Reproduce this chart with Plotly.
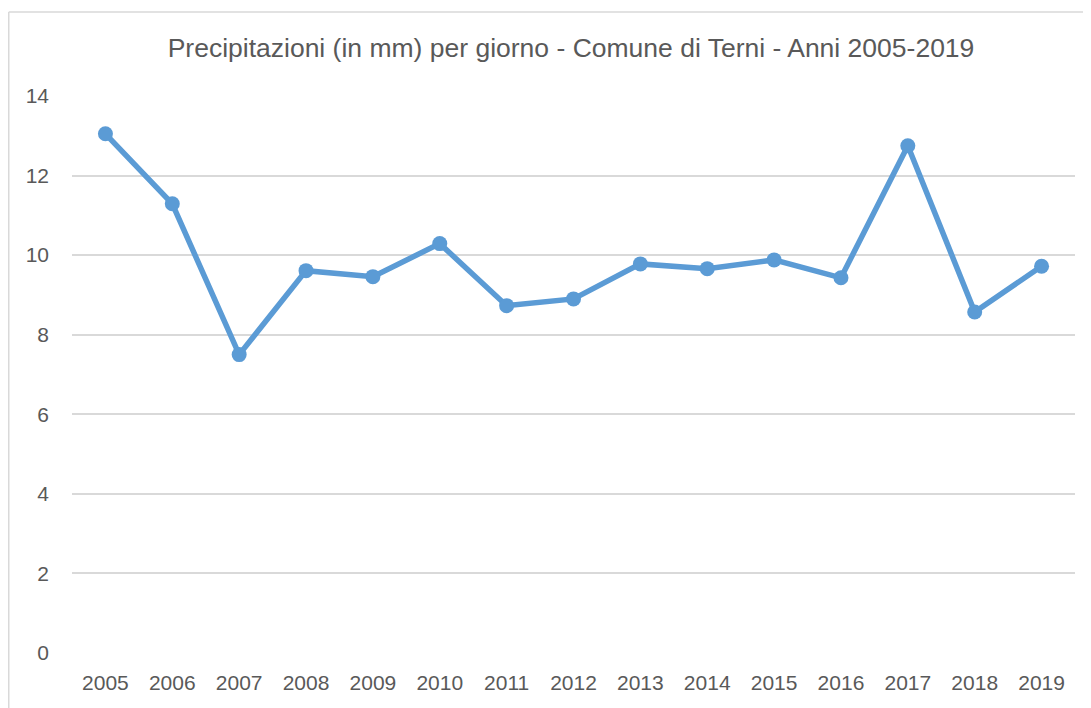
import plotly.graph_objects as go

years = ["2005", "2006", "2007", "2008", "2009", "2010", "2011", "2012",
         "2013", "2014", "2015", "2016", "2017", "2018", "2019"]
precip = [13.05, 11.29, 7.50, 9.61, 9.46, 10.29, 8.73, 8.90,
          9.78, 9.66, 9.88, 9.43, 12.75, 8.57, 9.72]
y_ticks = [0, 2, 4, 6, 8, 10, 12, 14]
title = "Precipitazioni (in mm) per giorno - Comune di Terni - Anni 2005-2019"

# page body has an 8px offset; figure sized so plot area lands where the reference has it
OFF = 8
W, H = 1083, 700
L, R, T, B = 64, 16, 88, 55
pw = W - L - R
ph = H - T - B

fig = go.Figure()
fig.add_trace(go.Scatter(
    x=years, y=precip, mode="lines+markers",
    line=dict(color="#5B9BD5", width=5.5),
    marker=dict(color="#5B9BD5", size=15),
    showlegend=False, hoverinfo="x+y",
))

font_family = "Liberation Sans, Arial, sans-serif"
fig.update_layout(
    width=W, height=H,
    margin=dict(l=L, r=R, t=T, b=B),
    paper_bgcolor="white", plot_bgcolor="white",
    title=dict(text=title, x=(571 - OFF) / W, xanchor="center",
               y=1 - (48 - OFF) / H, yanchor="middle",
               font=dict(family=font_family, size=26.5, color="#595959")),
    font=dict(family=font_family, size=21, color="#595959"),
    xaxis=dict(type="category", range=[-0.5, 14.5], showgrid=False, zeroline=False,
               showline=False, ticks="", ticklabelstandoff=15,
               tickfont=dict(size=21, color="#595959")),
    yaxis=dict(range=[0, 14], tickvals=y_ticks, showgrid=True, gridcolor="#D9D9D9",
               gridwidth=1.5, zeroline=False, showline=False, ticks="",
               ticklabelstandoff=22, tickfont=dict(size=21, color="#595959")),
)

# outer chart frame (partially visible: left and top edges)
x_left = (8 - OFF + 0.75 - L) / pw
y_top = (H - B - (12 - OFF)) / ph
fig.add_shape(type="line", xref="paper", yref="paper", x0=x_left, x1=x_left,
              y0=y_top, y1=-0.5, line=dict(color="#D9D9D9", width=1.5))
fig.add_shape(type="line", xref="paper", yref="paper", x0=x_left, x1=1.5,
              y0=y_top, y1=y_top, line=dict(color="#D9D9D9", width=1.5))

fig.write_html("out.html")
